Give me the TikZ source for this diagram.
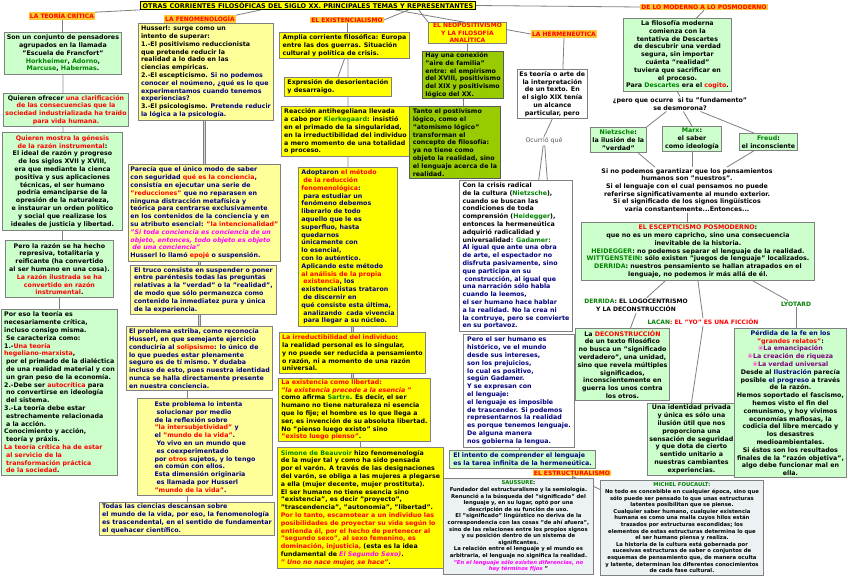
\documentclass[tikz,border=0pt]{standalone}
\usepackage{fontspec}
\setmainfont{DejaVu Sans}
\newfontfamily\symfont{DejaVu Sans}
\usetikzlibrary{calc}
\pgfdeclarelayer{background}
\pgfsetlayers{background,main}
\definecolor{lgreen}{RGB}{204,255,204}
\definecolor{pyellow}{RGB}{255,255,153}
\definecolor{byellow}{RGB}{255,255,0}
\definecolor{olivebox}{RGB}{153,204,0}
\definecolor{sgray}{RGB}{236,242,244}
\definecolor{bordergray}{RGB}{128,128,128}
\definecolor{darkbord}{RGB}{90,90,90}
\definecolor{tnavy}{RGB}{0,0,128}
\definecolor{tred}{RGB}{255,0,0}
\definecolor{tgreen}{RGB}{0,128,0}
\definecolor{tmag}{RGB}{255,0,255}
\definecolor{tpurple}{RGB}{128,0,128}
\definecolor{tpink}{RGB}{255,80,200}
\definecolor{labfill}{RGB}{255,200,50}
\definecolor{linegray}{RGB}{128,128,128}
\definecolor{dfill}{RGB}{215,215,215}
\newcommand\rd[1]{\textcolor{tred}{#1}}
\newcommand\gr[1]{\textcolor{tgreen}{#1}}
\newcommand\nv[1]{\textcolor{tnavy}{#1}}
\newcommand\mg[1]{\textcolor{tmag}{\itshape #1}}
\newcommand\pu[1]{\textcolor{tpurple}{{\symfont\mdseries\textcolor{tpink}{❀}}#1}}
\newcommand\bx[7]{\node[#2, anchor=north west, minimum width=#5pt, minimum height=#6pt] (#1) at (#3,#4) {#7};}
\tikzset{
 boxbase/.style={draw=bordergray, line width=0.9pt, inner xsep=2pt, inner ysep=1pt, font=\bfseries\fontsize{6.3}{7.8}\selectfont, text=black},
 gbox/.style={boxbase, fill=lgreen},
 pybox/.style={boxbase, fill=pyellow, text=tnavy},
 yybox/.style={boxbase, fill=byellow},
 olbox/.style={boxbase, fill=olivebox, draw=darkbord},
 whbox/.style={boxbase, fill=white},
 stbox/.style={boxbase, fill=sgray, font=\bfseries\fontsize{5.3}{6.6}\selectfont},
 labtag/.style={fill=labfill, text=tred, inner xsep=1pt, inner ysep=0.8pt, font=\bfseries\fontsize{6}{7}\selectfont},
 freetext/.style={font=\bfseries\fontsize{6.3}{7.7}\selectfont, align=center, inner sep=1pt},
 conn/.style={draw=linegray, line width=0.8pt},
 dconn/.style={draw=linegray, double=dfill, double distance=1.4pt, line width=0.7pt},
}
\begin{document}
\begin{tikzpicture}[x=1pt,y=-1pt]
\useasboundingbox (0,0) rectangle (848,576);
% title and headings
\node[fill=byellow, draw=black, line width=0.6pt, inner xsep=2pt, inner ysep=1pt, font=\bfseries\fontsize{6.5}{7}\selectfont] (title) at (308,5.5) {OTRAS CORRIENTES FILOSÓFICAS DEL SIGLO XX. PRINCIPALES TEMAS Y REPRESENTANTES};
\node[labtag] (tc) at (62,16) {LA TEORÍA CRÍTICA};
\node[labtag] (fen) at (200,19) {LA FENOMENOLOGÍA};
\node[labtag] (ex) at (347,20) {EL EXISTENCIALISMO};
\node[labtag] (herm) at (564,34) {LA HERMENEÚTICA};
\node[labtag] (dl) at (704,7) {DE LO MODERNO A LO POSMODERNO};
\node[labtag] (est) at (572,473) {EL ESTRUCTURALISMO};
\bx{neo}{yybox, text=tred, align=center, font=\bfseries\fontsize{6}{7.4}\selectfont}{428}{22}{78}{21}{EL NEOPOSITIVISMO\\Y LA FILOSOFÍA\\ANALÍTICA}
% teoria critica
\bx{A}{gbox, align=center}{4}{32}{117}{42}{Son un conjunto de pensadores\\agrupados en la llamada\\"Escuela de Francfort"\\\gr{Horkheimer}, \gr{Adorno},\\\gr{Marcuse}, \gr{Habermas}.}
\bx{B}{gbox, align=center}{3}{93}{124}{33}{Quieren ofrecer \rd{una clarificación}\\\rd{de las consecuencias que la}\\\rd{sociedad industrializada ha traído}\\\rd{para vida humana.}}
\bx{C}{gbox, align=center}{2}{132}{120}{98}{\rd{Quieren mostra la génesis}\\\rd{de la razón instrumental}:\\El ideal de razón y progreso\\de los siglos XVII y XVIII,\\era que mediante la cienca\\positiva y sus aplicaciones\\técnicas, el ser humano\\podría emanciparse de la\\opresión de la naturaleza,\\e instaurar un orden político\\y social que realizase los\\ideales de justicia y libertad.}
\bx{D}{gbox, align=center}{5}{240}{108}{57}{Pero la razón se ha hecho\\represiva, totalitaria y\\reificante (ha convertido\\al ser humano en una cosa).\\\rd{La razón ilustrada se ha}\\\rd{convertido en razón}\\\rd{instrumental}.}
\bx{E}{gbox, align=left}{1}{309}{116}{166}{Por eso la teoría es\\necesariamente crítica,\\incluso consigo misma.\\\hspace*{2pt}Se caracteriza como:\\1.-\rd{Una teoría}\\\rd{hegeliano-marxista},\\\hspace*{2pt}por el primado de la dialéctica\\\hspace*{2pt}de una realidad material y con\\\hspace*{2pt}un gran peso de la economía.\\2.-Debe ser \rd{autocrítica} para\\\hspace*{2pt}no convertirse en ideología\\\hspace*{2pt}del sistema.\\3.-La teoría debe estar\\\hspace*{2pt}estrechamente relacionada\\\hspace*{2pt}a la acción.\\Conocimiento y acción,\\\hspace*{2pt}teoría y práxis.\\\rd{La teoría crítica ha de estar}\\\rd{\hspace*{2pt}al servicio de la}\\\rd{\hspace*{2pt}transformación práctica}\\\rd{\hspace*{2pt}de la sociedad}.}
% fenomenologia
\bx{F1}{pybox, text=black, align=left}{138}{23}{135}{97}{Husserl: surge como un\\intento de superar:\\1.-El positivismo reduccionista\\que pretende reducir la\\realidad a lo dado en las\\ciencias empíricas.\\2.-El escepticismo. \nv{Si no podemos}\\\nv{conocer el noúmeno, ¿qué es lo que}\\\nv{experimentamos cuando tenemos}\\\nv{experiencias?}\\3.-El psicologismo. \nv{Pretende reducir}\\\nv{la lógica a la psicología.}}
\bx{F2}{pybox, align=left}{128}{164}{144}{97}{Parecía que el único modo de saber\\con seguridad \rd{qué es la conciencia},\\consistía en ejecutar una serie de\\\rd{"reducciones"} que no reparasen en\\ninguna distracción metafísica y\\teórica para centrarse exclusivamente\\en los contenidos de la conciencia y en\\su atributo esencial: \rd{"la intencionalidad"}\\\mg{"Si toda conciencia es conciencia de un}\\\mg{objeto, entonces, todo objeto es objeto}\\\mg{\hspace*{2pt}de una conciencia"}\\Husserl lo llamó \rd{epojé} o suspensión.}
\bx{F3}{pybox, align=left}{130}{265}{146}{49}{El truco consiste en suspender o poner\\entre paréntesis todas las preguntas\\relativas a la "verdad" o la "realidad",\\de modo que sólo permanezca como\\contenido la inmediatez pura y única\\de la experiencia.}
\bx{F4}{pybox, align=left}{126}{326}{146}{64}{El problema estriba, como reconocía\\Husserl, en que semejante ejercicio\\conduciría al \rd{solipsismo}: lo único de\\lo que puedes estar plenamente\\seguro es de tí mismo. Y dudaba\\incluso de esto, pues nuestra identidad\\nunca se halla directamente presente\\en nuestra conciencia.}
\bx{F5}{pybox, align=left}{137}{398}{135}{97}{Este problema lo intenta\\\hspace*{2pt}solucionar por medio\\de la reflexión sobre\\\rd{"la intersubjetividad"} y\\el \rd{"mundo de la vida"}.\\\hspace*{2pt}Yo vivo en un mundo que\\\hspace*{2pt}es coexperimentado\\por \rd{otros} sujetos, y lo tengo\\en común con ellos.\\Esta dimensión originaria\\\hspace*{2pt}es llamada por Husserl\\\rd{"mundo de la vida"}.}
\bx{F6}{pybox, align=left}{99}{502}{175}{33}{Todas las ciencias descansan sobre\\el mundo de la vida, por eso, la fenomenología\\es trascendental, en el sentido de fundamentar\\el quehacer científico.}
% existencialismo
\bx{X1}{yybox, align=left}{279}{32}{130}{26}{Amplia corriente filosófica: Europa\\entre las dos guerras. Situación\\cultural y política de crisis.}
\bx{X2}{yybox, align=left}{284}{77}{107}{19}{Expresión de desorientación\\y desarraigo.}
\bx{X3}{yybox, align=left}{281}{106}{128}{50}{Reacción antihegeliana llevada\\a cabo por \gr{Kierkegaard}: insistió\\en el primado de la singularidad,\\en la irreductibilidad del individuo\\a mero momento de una totalidad\\o proceso.}
\bx{X4}{yybox, text=tnavy, align=left}{298}{167}{99}{159}{Adoptaron \rd{el método}\\\rd{\hspace*{2pt}de la reducción}\\\rd{fenomenológica}:\\\hspace*{2pt}para estudiar un\\fenómeno debemos\\liberarlo de todo\\aquello que le es\\superfluo, hasta\\quedarnos\\únicamente con\\lo esencial,\\con lo auténtico.\\Aplicando este método\\\rd{al análisis de la propia}\\\rd{\hspace*{2pt}existencia}, los\\existencialistas trataron\\\hspace*{2pt}de discernir en\\qué consiste esta última,\\\hspace*{2pt}analizando\ \ cada vivencia\\\hspace*{2pt}para llegar a su núcleo.}
\bx{X5}{yybox, align=left}{279}{332}{146}{41}{\rd{La irreductibilidad del individuo}:\\la realidad personal es lo singular,\\y no puede ser reducida a pensamiento\\o razón, ni a momento de una razón\\universal.}
\bx{X6}{yybox, align=left}{278}{378}{152}{63}{\rd{La existencia como libertad:}\\\rd{\itshape"la existencia precede a la esencia "}\\como afirma \gr{Sartre}. Es decir, el ser\\humano no tiene naturaleza ni esencia\\que lo fije; el hombre es lo que llega a\\ser, es invención de su absoluta libertad.\\No "pienso luego existo" sino\\\rd{"existo luego pienso"}.}
\bx{X7}{yybox, align=left}{277}{447}{166}{121}{\gr{Simone de Beauvoir} hizo fenomenología\\de la mujer tal y como ha sido pensada\\por el varón. A través de las designaciones\\del varón, se obliga a las mujeres a plegarse\\a ella (mujer decente, mujer prostituta).\\El ser humano no tiene esencia sino\\"existencia", es decir "proyecto",\\"trascendencia", "autonomía", "libertad".\\\rd{Por lo tanto, escamotear a un individuo las}\\\rd{posibilidades de proyectar su vida según lo}\\\rd{entienda él, por el hecho de pertenecer al}\\\rd{"segundo sexo", al sexo femenino, es}\\\rd{dominación, injusticia,} (esta es la idea\\fundamental de \mg{El Segundo Sexo)}.\\\rd{\itshape" Uno no nace mujer, se hace"}.}
% neopositivismo
\bx{N1}{olbox, align=left}{422}{51}{81}{47}{Hay una conexión\\"aire de familia"\\entre: el empirismo\\del XVIII, positivismo\\del XIX y positivismo\\lógico del XX.}
\bx{N2}{olbox, align=left}{409}{106}{91}{72}{Tanto el postivismo\\lógico, como el\\"atomismo lógico"\\transforman el\\concepto de filosofía:\\ya no tiene como\\objeto la realidad, sino\\el lenguaje acerca de la\\realidad.}
% hermeneutica
\bx{H1}{whbox, align=center}{517}{69}{61}{49}{Es teoría o arte de\\la interpretación\\de un texto. En\\el siglo XIX tenía\\un alcance\\particular, pero}
\node[font=\mdseries\fontsize{6.3}{7.5}\selectfont, text=darkbord, inner sep=1pt] (oq) at (544,141) {Ocurrió qué};
\bx{H2}{whbox, align=left}{459}{180}{113}{151}{Con la crisis radical\\de la cultura (\gr{Nietzsche}),\\cuando se buscan las\\condiciones de toda\\comprensión (\gr{Heidegger}),\\entonces la hermeneútica\\adquirió radicalidad y\\universalidad: \gr{Gadamer:}\\\nv{Al igual que ante una obra}\\\nv{de arte, el espectador no}\\\nv{disfruta pasivamente, sino}\\\nv{que participa en su}\\\nv{\hspace*{2pt}construcción, al igual que}\\\nv{una narración sólo habla}\\\nv{cuando la leemos,}\\\nv{el ser humano hace hablar}\\\nv{a la realidad. No la crea ni}\\\nv{la contruye, pero se convierte}\\\nv{en su portavoz.}}
\bx{H3}{whbox, text=tnavy, align=left}{463}{334}{111}{113}{Pero el ser humano es\\histórico, ve el mundo\\desde sus intereses,\\son los prejuicios,\\lo cual es positivo,\\según Gadamer.\\Y se expresan con\\el lenguaje:\\el lenguaje es imposible\\de trascender. Si podemos\\representarnos la realidad\\es porque tenemos lenguaje.\\De alguna manera\\nos gobierna la lengua.}
\bx{H4}{gbox, text=tnavy, align=left}{449}{450}{146}{18}{El intento de comprender el lenguaje\\es la tarea infinita de la hermeneútica.}
% estructuralismo
\bx{S1}{stbox, align=center}{443}{478}{150}{96}{\gr{SAUSSURE}:\\Fundador del estructuralismo y la semiología.\\Renunció a la búsqueda del "significado" del\\lenguaje y, en su lugar, optó por una\\descripción de su función de uso.\\El "significado" lingüístico no deriva de la\\correspondencia con las cosas "de ahí afuera",\\sino de las relaciones entre los propios signos\\y su posición dentro de un sistema de\\significantes.\\La relación entre el lenguaje y el mundo es\\arbitraria, el lenguaje no significa la realidad.\\\mg{"En el lenguaje sólo existen diferencias, no}\\\mg{hay términos fijos} "}
\bx{S2}{stbox, align=center}{600}{480}{163}{95}{\gr{MICHEL FOUCAULT:}\\No todo es concebible en cualquier época, sino que\\sólo puede ser pensado lo que unas estructuras\\latentes posibilitan que se piense.\\Cualquier saber humano, cualquier existencia\\humana es como una malla cuyos hilos están\\trazados por estructuras escondidas; los\\elementos de estas estructuras determina lo que\\el ser humano piensa y realiza.\\La historia de la cultura está gobernada por\\sucesivas estructuras de saber o conjuntos de\\esquemas de pensamiento que, de manera oculta\\y latente, determinan los diferentes conocimientos\\de cada fase cultural.}
% posmoderno
\bx{P1}{gbox, align=center}{623}{18}{108}{73}{La filosofía moderna\\comienza con la\\tentativa de Descartes\\de descubrir una verdad\\segura, sin importar\\cuánta "realidad"\\tuviera que sacrificar en\\el proceso.\\Para \gr{Descartes} era el \rd{cogito}.}
\node[freetext] (q) at (680,104) {¿pero que ocurre\ \ si tu "fundamento"\\se desmorona?};
\bx{Nz}{gbox, align=center}{590}{127}{55}{25}{\gr{Nietzsche}:\\la ilusión de la\\"verdad"}
\bx{Mx}{gbox, align=center}{662}{126}{59}{25}{\gr{Marx}:\\el saber\\como ideología}
\bx{Fr}{gbox, align=center}{739}{133}{58}{17}{\gr{Freud}:\\el inconsciente}
\node[freetext] (T) at (687,190) {Si no podemos garantizar que los pensamientos\\humanos son "nuestros".\\Si el lenguaje con el cual pensamos no puede\\referirse significativamente al mundo exterior.\\Si el significado de los signos lingüísticos\\varía constantemente...Entonces...};
\bx{ESC}{gbox, align=center}{581}{222}{233}{58}{\rd{EL ESCEPTICISMO POSMODERNO}:\\que no es un mero capricho, sino una consecuencia\\inevitable de la historia.\\\gr{HEIDEGGER}: no podemos separar el lenguaje de la realidad.\\\gr{WITTGENSTEIN}: sólo existen "juegos de lenguaje" localizados.\\\gr{DERRIDA}: nuestros pensamiento se hallan atrapados en el\\lenguaje, no podemos ir más allá de él.}
\node[freetext, font=\bfseries\fontsize{6}{8.5}\selectfont] (der) at (636,305.5) {\gr{DERRIDA}: EL LOGOCENTRISMO\\Y LA DECONSTRUCCIÓN};
\node[freetext, font=\bfseries\fontsize{6}{7}\selectfont, text=tred] (lac) at (703,322) {\gr{LACAN}: EL "YO" ES UNA FICCIÓN};
\node[freetext, font=\bfseries\fontsize{6}{7}\selectfont, text=tgreen] (lyo) at (796,304) {LYOTARD};
\bx{DC}{gbox, align=center}{575}{328}{94}{72}{La \rd{DECONSTRUCCIÓN}\\de un texto filosófico\\no busca un "significado\\verdadero", una unidad,\\sino que revela múltiples\\significados,\\inconscientemente en\\guerra los unos contra\\los otros.}
\bx{ID}{gbox, align=center}{647}{403}{79}{72}{Una identidad privada\\y única es sólo una\\ilusión útil que nos\\proporciona una\\sensación de seguridad\\y que dota de cierto\\sentido unitario a\\nuestras cambiantes\\experiencias.}
\bx{PF}{gbox, align=center}{734}{328}{112}{149}{\nv{Pérdida de la fe en los}\\\rd{"grandes relatos"}:\\\pu{La emancipación}\\\pu{La creación de riqueza}\\\pu{La verdad universal}\\Desde al \nv{Ilustración} parecía\\posible \nv{el progreso} a través\\de la razón.\\Hemos soportado el fascismo,\\hemos visto el fin del\\comunismo, y hoy vivimos\\economías mafiosas, la\\codicia del libre mercado y\\los desastres\\medioambientales.\\Si éstos son los resultados\\finales de la "razón objetiva",\\algo debe funcionar mal en\\ella.}
% connectors
\begin{pgfonlayer}{background}
\fill[white] (0,0) rectangle (848,576);
\draw[conn] (title.south west) -- (tc.north east);
\draw[conn] ($(title.south west)!0.36!(title.south east)$) -- (fen.north east);
\draw[conn] ($(title.south west)!0.80!(title.south east)$) -- (ex.east);
\draw[conn] ($(title.south west)!0.76!(title.south east)$) -- (herm.west);
\draw[conn] ($(title.south west)!0.83!(title.south east)$) -- (neo.north west);
\draw[conn] (title.east) -- (dl.west);
\draw[conn] (tc.south) -- (tc.south |- A.north);
\draw[dconn] (A.south) -- (A.south |- B.north);
\draw[dconn] (A.south |- B.south) -- (A.south |- C.north);
\draw[conn] (C.south) -- (C.south |- D.north);
\draw[conn] (D.south) -- (D.south |- E.north);
\draw[conn] (fen.south) -- (fen.south |- F1.north);
\draw[dconn] (F2.north |- F1.south) -- (F2.north);
\draw[dconn] (F4.north |- F2.south) -- (F4.north |- F3.north);
\draw[dconn] (F4.north |- F3.south) -- (F4.north);
\draw[conn] (F6.north |- F4.south) -- (F6.north |- F5.north);
\draw[conn] (F6.north |- F5.south) -- (F6.north);
\draw[conn] (ex.south) -- (ex.south |- X1.north);
\draw[conn] (X1.south) -- (X2.north);
\draw[dconn] (X4.north |- X1.south) -- (X4.north |- X3.north);
\draw[dconn] (X4.north |- X3.south) -- (X4.north);
\draw[dconn] (X5.north |- X4.south) -- (X5.north);
\draw[dconn] (X5.south) -- (X5.south |- X6.north);
\draw[conn] (X7.north |- X6.south) -- (X7.north);
\draw[conn] (neo.south) -- (neo.south |- N1.north);
\draw[conn] (N1.south) -- (N1.south |- N2.north);
\draw[conn] (herm.south) -- ($(H1.north)!0.3!(H1.north east)$);
\draw[conn] (H1.south) -- (oq.north);
\draw[conn] (oq.-100) -- ($(H2.north)!0.4!(H2.north east)$);
\draw[conn] (oq.-80) -- ($(H2.north)!0.55!(H2.north east)$);
\draw[dconn] ($(H3.north)!0.15!(H3.north east)$ |- H2.south) -- ($(H3.north)!0.15!(H3.north east)$);
\draw[conn] (H3.south) -- (H3.south |- H4.north);
\draw[conn] (est.south) -- (est.south |- S1.north);
\draw[conn] (est.south) -- (S2.center);
\draw[conn] (dl.south) -- ($(P1.north)!0.35!(P1.north east)$);
\draw[conn] (P1.south) -- (q.north);
\draw[conn] ($(q.south)!0.2!(q.south west)$) -- (Nz.north east);
\draw[conn] ($(q.south)!0.05!(q.south east)$) -- (Mx.north);
\draw[conn] ($(q.south)!0.3!(q.south east)$) -- ($(Fr.north west)!0.25!(Fr.north east)$);
\draw[conn] ($(Nz.south)!0.7!(Nz.south east)$) -- ($(T.north)!0.37!(T.north west)$);
\draw[conn] (Mx.south) -- (Mx.south |- T.north);
\draw[conn] ($(Fr.south)!0.5!(Fr.south west)$) -- ($(T.north)!0.46!(T.north east)$);
\draw[conn] (T.south) -- (T.south |- ESC.north);
\draw[conn] ($(ESC.south)!0.28!(ESC.south west)$) -- ($(der.north)!0.2!(der.north east)$);
\draw[conn] (ESC.south) -- (lac.north);
\draw[conn] (lac.south) -- (ID.north);
\draw[conn] ($(ESC.south)!0.47!(ESC.south east)$) -- ($(lyo.north)!0.5!(lyo.north west)$);
\draw[conn] (der.south) -- ($(DC.north)!0.17!(DC.north east)$);
\draw[conn] (lyo.south) -- (lyo.south |- PF.north);
\end{pgfonlayer}
\end{tikzpicture}
\end{document}
